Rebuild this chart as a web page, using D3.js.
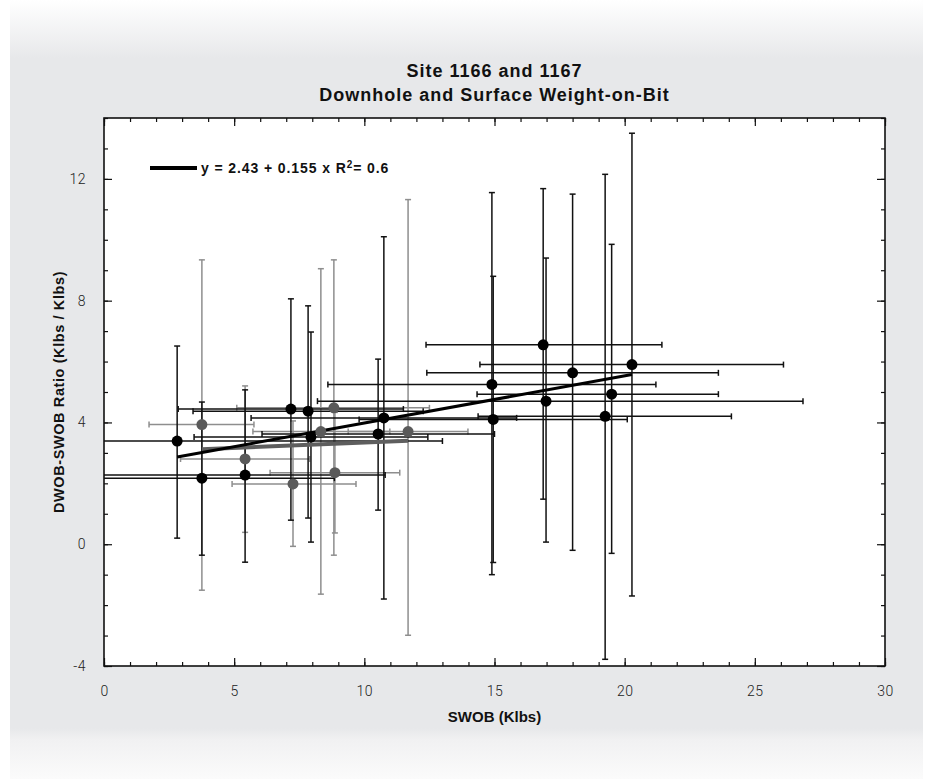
<!DOCTYPE html>
<html lang="en">
<head>
<meta charset="UTF-8">
<title>Site 1166 and 1167 - Weight-on-Bit</title>
<script src="https://d3js.org/d3.v7.min.js"></script>
<style>
  body { margin: 0; background: #fff; }
  text { font-family: 'Liberation Sans', Arial, sans-serif; fill: #111; }
  .tick text { font-family: Roboto, 'Liberation Sans', sans-serif; font-weight: 300; font-size: 14px; fill: #222; letter-spacing: 0.5px; }
</style>
</head>
<body>
<div id="container"></div>
<script>
// axis ticks
const xTicks = [0, 5, 10, 15, 20, 25, 30];
const yTicks = [-4, 0, 4, 8, 12];

// black series
const blackX   = [2.81, 3.76, 5.42, 7.18, 7.84, 7.95, 10.53, 10.75, 14.9, 14.95, 16.87, 16.98, 18.0, 19.25, 19.5, 20.28];
const blackY   = [3.39, 2.17, 2.27, 4.44, 4.37, 3.52, 3.62, 4.15, 5.25, 4.1, 6.55, 4.7, 5.63, 4.2, 4.93, 5.9];
const blackYLo = [0.2, -0.36, -0.59, 0.79, 0.86, 0.07, 1.12, -1.8, -1.0, -0.6, 1.48, 0.07, -0.2, -3.78, -0.3, -1.7];
const blackYHi = [6.51, 4.67, 5.07, 8.06, 7.83, 6.97, 6.08, 10.1, 11.55, 8.8, 11.68, 9.4, 11.5, 12.15, 9.85, 13.5];
const blackXLo = [-7.4, -1.33, -0.3, 2.85, 3.42, 3.46, 6.07, 5.65, 8.6, 9.8, 12.37, 8.2, 12.4, 14.37, 14.33, 14.44];
const blackXHi = [13.0, 8.85, 10.8, 11.5, 12.26, 12.44, 15.0, 15.85, 21.2, 20.1, 21.43, 26.85, 23.6, 24.1, 23.6, 26.1];

// gray series
const grayX   = [3.76, 5.42, 7.26, 8.33, 8.83, 8.87, 11.68];
const grayY   = [3.93, 2.8, 1.98, 3.7, 4.48, 2.35, 3.7];
const grayYLo = [-1.51, 0.39, -0.07, -1.64, -0.36, 0.37, -2.99];
const grayYHi = [9.34, 5.2, 4.05, 9.05, 9.34, 4.33, 11.32];
const grayXLo = [1.73, 2.94, 4.92, 5.72, 5.1, 6.38, 9.38];
const grayXHi = [5.76, 7.9, 9.68, 10.98, 12.5, 11.36, 13.98];

// linear fits: [intercept, slope]
const blackFit = [2.43, 0.155];
const grayFit = [2.99, 0.035];

const W = 933, H = 779;
const margin = {top: 118, right: 48, bottom: 113, left: 104};
const width = W - margin.left - margin.right;
const height = H - margin.top - margin.bottom;

const x = d3.scaleLinear().domain([0, 30]).range([0, width]);
const y = d3.scaleLinear().domain([-4, 14]).range([height, 0]);

const svg = d3.select('#container').append('svg')
  .attr('width', W).attr('height', H);

// panel background
const defs = svg.append('defs');
const grad = defs.append('linearGradient').attr('id', 'bg')
  .attr('x1', 0).attr('y1', 0).attr('x2', 0).attr('y2', 1);
grad.append('stop').attr('offset', 0).attr('stop-color', '#ffffff');
grad.append('stop').attr('offset', 0.075).attr('stop-color', '#e7e8ea');
grad.append('stop').attr('offset', 0.935).attr('stop-color', '#e7e8ea');
grad.append('stop').attr('offset', 0.95).attr('stop-color', '#f1f1f2');
grad.append('stop').attr('offset', 1).attr('stop-color', '#fbfbfb');
svg.append('rect').attr('x', 10).attr('y', 0).attr('width', 913).attr('height', H)
  .attr('fill', 'url(#bg)');

defs.append('clipPath').attr('id', 'plotclip').append('rect')
  .attr('width', width).attr('height', height);

const g = svg.append('g').attr('transform', `translate(${margin.left},${margin.top})`);
g.append('rect').attr('width', width).attr('height', height).attr('fill', '#fff');

// title
svg.append('text').attr('x', margin.left + width / 2).attr('y', 77)
  .attr('text-anchor', 'middle').style('font-weight', 'bold').style('font-size', '18px')
  .style('letter-spacing', '1px').text('Site 1166 and 1167');
svg.append('text').attr('x', margin.left + width / 2).attr('y', 101)
  .attr('text-anchor', 'middle').style('font-weight', 'bold').style('font-size', '18px')
  .style('letter-spacing', '1px').text('Downhole and Surface Weight-on-Bit');

// axes, ticks pointing inward on all four sides
const minorX = d3.range(0, 31);
const minorY = d3.range(-4, 15);
const fmt = d => String(d);
function plain(sel) { sel.select('.domain').remove(); sel.selectAll('line').attr('stroke', '#111').attr('stroke-width', 1.2); }

g.append('g').attr('transform', `translate(0,${height})`)
  .call(d3.axisBottom(x).tickValues(minorX).tickSize(-4).tickFormat('')).call(plain);
g.append('g').attr('transform', `translate(0,${height})`)
  .call(d3.axisBottom(x).tickValues(xTicks).tickSize(-8).tickPadding(20).tickFormat(fmt)).call(plain);
g.append('g')
  .call(d3.axisTop(x).tickValues(minorX).tickSize(-4).tickFormat('')).call(plain);
g.append('g')
  .call(d3.axisTop(x).tickValues(xTicks).tickSize(-8).tickFormat('')).call(plain);
g.append('g')
  .call(d3.axisLeft(y).tickValues(minorY).tickSize(-4).tickFormat('')).call(plain);
g.append('g')
  .call(d3.axisLeft(y).tickValues(yTicks).tickSize(-8).tickPadding(18).tickFormat(fmt)).call(plain);
g.append('g').attr('transform', `translate(${width},0)`)
  .call(d3.axisRight(y).tickValues(minorY).tickSize(-4).tickFormat('')).call(plain);
g.append('g').attr('transform', `translate(${width},0)`)
  .call(d3.axisRight(y).tickValues(yTicks).tickSize(-8).tickFormat('')).call(plain);

g.append('rect').attr('width', width).attr('height', height)
  .attr('fill', 'none').attr('stroke', '#111').attr('stroke-width', 1.6);

// axis titles
g.append('text').attr('x', width / 2).attr('y', height + 56)
  .attr('text-anchor', 'middle').style('font-weight', 'bold').style('font-size', '15px')
  .text('SWOB (Klbs)');
g.append('text').attr('transform', `translate(${-40},${height / 2}) rotate(-90)`)
  .attr('text-anchor', 'middle').style('font-weight', 'bold').style('font-size', '14.5px')
  .style('letter-spacing', '0.6px')
  .text('DWOB-SWOB Ratio  (Klbs / Klbs)');

// error bars and points
const plot = g.append('g').attr('clip-path', 'url(#plotclip)');

function errorBars(xs, ys, xlo, xhi, ylo, yhi, color) {
  const bars = plot.append('g').attr('stroke', color).attr('stroke-width', 1.5).attr('fill', 'none');
  const cap = 3;
  xs.forEach((d, i) => {
    const cx = x(d), cy = y(ys[i]);
    // vertical
    bars.append('line').attr('x1', cx).attr('x2', cx).attr('y1', y(ylo[i])).attr('y2', y(yhi[i]));
    bars.append('line').attr('x1', cx - cap).attr('x2', cx + cap).attr('y1', y(ylo[i])).attr('y2', y(ylo[i]));
    bars.append('line').attr('x1', cx - cap).attr('x2', cx + cap).attr('y1', y(yhi[i])).attr('y2', y(yhi[i]));
    // horizontal
    bars.append('line').attr('x1', x(xlo[i])).attr('x2', x(xhi[i])).attr('y1', cy).attr('y2', cy);
    bars.append('line').attr('x1', x(xlo[i])).attr('x2', x(xlo[i])).attr('y1', cy - cap).attr('y2', cy + cap);
    bars.append('line').attr('x1', x(xhi[i])).attr('x2', x(xhi[i])).attr('y1', cy - cap).attr('y2', cy + cap);
  });
}

errorBars(grayX, grayY, grayXLo, grayXHi, grayYLo, grayYHi, '#8e8e8e');
errorBars(blackX, blackY, blackXLo, blackXHi, blackYLo, blackYHi, '#111');

// regression lines
const fitLine = d3.line().x(d => x(d[0])).y(d => y(d[1]));
const gx = d3.extent(grayX);
plot.append('path').datum(gx.map(v => [v, grayFit[0] + grayFit[1] * v]))
  .attr('d', fitLine).attr('stroke', '#5e5e5e').attr('stroke-width', 4).attr('fill', 'none');
const bx = d3.extent(blackX);
plot.append('path').datum(bx.map(v => [v, blackFit[0] + blackFit[1] * v]))
  .attr('d', fitLine).attr('stroke', '#000').attr('stroke-width', 3).attr('fill', 'none');

plot.append('g').selectAll('circle').data(grayX).join('circle')
  .attr('cx', d => x(d)).attr('cy', (d, i) => y(grayY[i])).attr('r', 5.5).attr('fill', '#5a5a5a');
plot.append('g').selectAll('circle').data(blackX).join('circle')
  .attr('cx', d => x(d)).attr('cy', (d, i) => y(blackY[i])).attr('r', 5.5).attr('fill', '#000');

// legend
g.append('line').attr('x1', 46).attr('x2', 93).attr('y1', 50).attr('y2', 50)
  .attr('stroke', '#000').attr('stroke-width', 4);
const leg = g.append('text').attr('x', 97).attr('y', 55)
  .style('font-weight', 'bold').style('font-size', '14px').style('letter-spacing', '0.9px');
leg.append('tspan').text('y = 2.43 + 0.155 x R');
leg.append('tspan').attr('dy', -5).style('font-size', '10px').text('2');
leg.append('tspan').attr('dy', 5).text('= 0.6');
</script>
</body>
</html>
